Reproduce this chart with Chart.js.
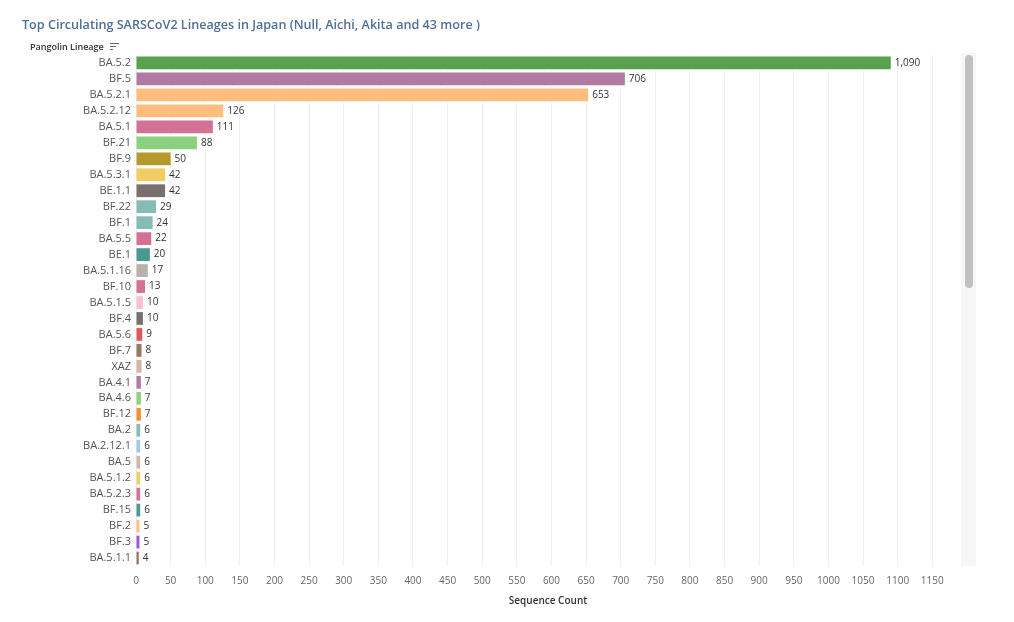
<!DOCTYPE html>
<html>
<head>
<meta charset="utf-8">
<script src="https://cdn.jsdelivr.net/npm/chart.js@4"></script>
<style>
  body { margin: 0; background: #fff; font-family: "Open Sans", sans-serif; }
  #wrap { position: relative; width: 1014px; height: 622px; }
  #title { position: absolute; left: 22px; top: 16px; font-size: 12.6px; font-weight: 600; color: #4f7096; white-space: nowrap; }
  #ytitle { position: absolute; left: 30px; top: 40px; font-size: 9px; font-weight: 600; color: #333; white-space: nowrap; }
  #sort { position: absolute; left: 110px; top: 43px; width: 9px; }
  #sort span { display: block; height: 1px; background: #666; margin-bottom: 2px; }
  #track { position: absolute; left: 961px; top: 53px; width: 15px; height: 513px; background: #f6f6f6; }
  #thumb { position: absolute; left: 965px; top: 55px; width: 8px; height: 233px; background: #c1c1c1; border-radius: 4px; }
</style>
</head>
<body>
<div id="wrap">
  <canvas id="myChartbar" width="1014" height="622"></canvas>
  <div id="title">Top Circulating SARSCoV2 Lineages in Japan (Null, Aichi, Akita and 43 more )</div>
  <div id="ytitle">Pangolin Lineage</div>
  <div id="sort"><span style="width:9px"></span><span style="width:6px"></span><span style="width:3px"></span></div>
  <div id="track"></div>
  <div id="thumb"></div>
</div>
<script>
// Lineage
var lineages = ['BA.5.2','BF.5','BA.5.2.1','BA.5.2.12','BA.5.1','BF.21','BF.9','BA.5.3.1','BE.1.1','BF.22',
  'BF.1','BA.5.5','BE.1','BA.5.1.16','BF.10','BA.5.1.5','BF.4','BA.5.6','BF.7','XAZ',
  'BA.4.1','BA.4.6','BF.12','BA.2','BA.2.12.1','BA.5','BA.5.1.2','BA.5.2.3','BF.15','BF.2',
  'BF.3','BA.5.1.1'];
var counts = [1090,706,653,126,111,88,50,42,42,29,
  24,22,20,17,13,10,10,9,8,8,
  7,7,7,6,6,6,6,6,6,5,
  5,4];
var barColors = ['#59a14f','#b07aa1','#ffbe7d','#ffbe7d','#d37295','#8cd17d','#b6992d','#f1ce63','#79706e','#86bcb6',
  '#86bcb6','#d37295','#499894','#bab0ac','#d37295','#fabfd2','#79706e','#e15759','#9d7660','#d7b5a6',
  '#b07aa1','#8cd17d','#f28e2b','#86bcb6','#a0cbe8','#d7b5a6','#f1ce63','#d37295','#499894','#ffbe7d',
  '#9d55d8','#9d7660'];
var xMax = 1190;

// etichette valori a fine barra
var valueLabels = {
  id: 'valueLabels',
  afterDatasetsDraw: function(chart) {
    var ctx = chart.ctx;
    var meta = chart.getDatasetMeta(0);
    ctx.save();
    ctx.font = '10px "Open Sans"';
    ctx.fillStyle = '#333';
    ctx.textBaseline = 'middle';
    ctx.textAlign = 'left';
    meta.data.forEach(function(bar, i) {
      ctx.fillText(counts[i].toLocaleString('en-US'), bar.x + 4, bar.y);
    });
    ctx.restore();
  }
};

new Chart("myChartbar", {
  type: "bar",
  data: {
    labels: lineages,
    datasets: [{
      data: counts,
      backgroundColor: barColors,
      barPercentage: 0.8,
      categoryPercentage: 1
    }]
  },
  plugins: [valueLabels],
  options: {
    indexAxis: 'y',
    responsive: false,
    animation: false,
    layout: { padding: { left: 0, right: 54, top: 55, bottom: 11 } },
    plugins: {
      legend: { display: false },
      tooltip: { enabled: false }
    },
    scales: {
      x: {
        min: 0,
        max: xMax,
        afterFit: function(s) { s.height = 45; },
        ticks: {
          stepSize: 50,
          includeBounds: false,
          callback: function(v) { return v; },
          color: '#666', font: { size: 10, family: 'Open Sans' }, padding: 9, maxRotation: 0, autoSkip: false
        },
        grid: { color: '#f0f0f0', drawTicks: false },
        border: { display: false },
        title: { display: true, text: 'Sequence Count', color: '#333', font: { size: 10, family: 'Open Sans', weight: '600' }, padding: { top: 0, bottom: 4 } }
      },
      y: {
        afterFit: function(s) { s.width = 136; },
        ticks: { color: '#555', font: { size: 11, family: 'Open Sans' }, padding: 5, autoSkip: false },
        grid: { display: false, drawTicks: false },
        border: { display: false }
      }
    }
  }
});
</script>
</body>
</html>
